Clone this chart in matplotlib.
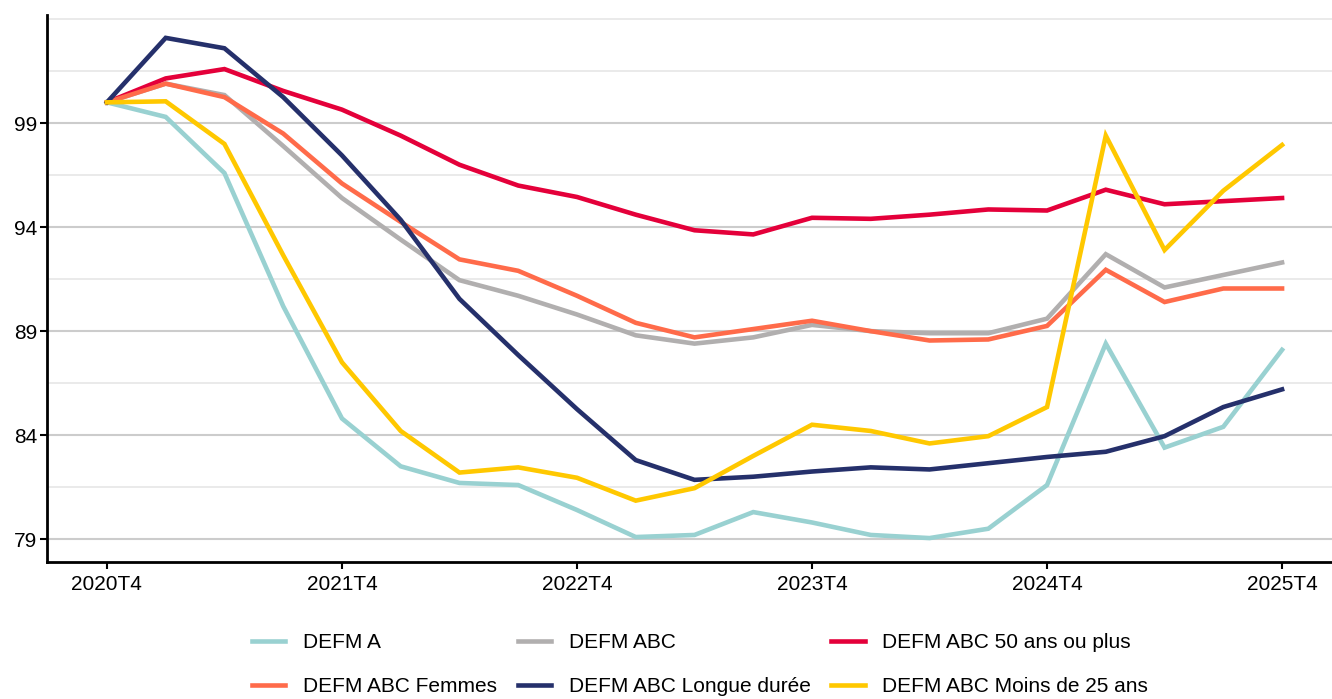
import numpy as np
import matplotlib
matplotlib.use("Agg")
import matplotlib.pyplot as plt


# Data (index base 100 at 2020T4), quarterly 2020T4 -> 2025T4

quarters = [f"{y}T{q}" for y in range(2020, 2026) for q in (1, 2, 3, 4)][3:]

defm_a = [100.0, 99.3, 96.6, 90.2, 84.8, 82.5, 81.7, 81.6, 80.4, 79.1, 79.2,
          80.3, 79.8, 79.2, 79.05, 79.5, 81.6, 88.4, 83.4, 84.4, 88.1]
defm_abc = [100.0, 100.9, 100.35, 97.9, 95.4, 93.4, 91.45, 90.7, 89.8, 88.8, 88.4,
            88.7, 89.3, 89.0, 88.9, 88.9, 89.6, 92.7, 91.1, 91.7, 92.3]
defm_50 = [100.0, 101.15, 101.6, 100.55, 99.65, 98.4, 97.0, 96.0, 95.45, 94.6, 93.85,
           93.65, 94.45, 94.4, 94.6, 94.85, 94.8, 95.8, 95.1, 95.25, 95.4]
defm_femmes = [100.0, 100.9, 100.25, 98.5, 96.1, 94.25, 92.45, 91.9, 90.7, 89.4, 88.7,
               89.1, 89.5, 89.0, 88.55, 88.6, 89.25, 91.95, 90.4, 91.05, 91.05]
defm_longue = [100.0, 103.1, 102.6, 100.25, 97.45, 94.35, 90.55, 87.85, 85.25, 82.8, 81.85,
               82.0, 82.25, 82.45, 82.35, 82.65, 82.95, 83.2, 83.95, 85.35, 86.2]
defm_moins25 = [100.0, 100.05, 98.0, 92.65, 87.5, 84.2, 82.2, 82.45, 81.95, 80.85, 81.45,
                83.0, 84.5, 84.2, 83.6, 83.95, 85.35, 98.4, 92.9, 95.75, 97.95]

series = [
    ("DEFM A", defm_a, "#99d1d1"),
    ("DEFM ABC", defm_abc, "#b1afaf"),
    ("DEFM ABC 50 ans ou plus", defm_50, "#e4003a"),
    ("DEFM ABC Femmes", defm_femmes, "#ff6b4a"),
    ("DEFM ABC Longue durée", defm_longue, "#25306b"),
    ("DEFM ABC Moins de 25 ans", defm_moins25, "#ffc800"),
]

plt.rcParams["font.family"] = ["Liberation Sans", "DejaVu Sans"]

fig = plt.figure(figsize=(13.32, 6.99), dpi=100)
ax = fig.add_axes([47 / 1332, 1 - 562 / 699, 1 - 47 / 1332, (562 - 15) / 699])

x = np.arange(len(quarters))
lines = {}
for name, vals, color in series:
    lines[name], = ax.plot(x, vals, color=color, lw=3.3, label=name,
                           solid_joinstyle="miter", zorder=3)

ax.set_xlim(-1.02, 20.85)
ax.set_ylim(77.9, 104.2)

ax.set_xticks(x[::4])
ax.set_xticklabels(quarters[::4])
ax.set_yticks([79, 84, 89, 94, 99])
ax.set_yticks([81.5, 86.5, 91.5, 96.5, 101.5, 104], minor=True)

ax.grid(axis="y", which="major", color="#cccccc", lw=1.5, zorder=0)
ax.grid(axis="y", which="minor", color="#e6e6e6", lw=1.2, zorder=0)
ax.tick_params(axis="y", which="minor", length=0)
ax.tick_params(axis="both", which="major", labelsize=15, colors="black",
               length=5, width=1.5)
ax.tick_params(axis="x", pad=4)
ax.tick_params(axis="y", pad=2)

for side in ("top", "right"):
    ax.spines[side].set_visible(False)
for side in ("left", "bottom"):
    ax.spines[side].set_linewidth(2)

# legend is filled column-wise, so order handles to read row-wise
order = ["DEFM A", "DEFM ABC Femmes", "DEFM ABC", "DEFM ABC Longue durée",
         "DEFM ABC 50 ans ou plus", "DEFM ABC Moins de 25 ans"]
fig.legend([lines[n] for n in order], order, loc="center",
           bbox_to_anchor=(700 / 1332, 1 - 665 / 699), ncol=3, frameon=False,
           fontsize=15, handlelength=1.6, handletextpad=0.85,
           columnspacing=1.0, labelspacing=1.2)

fig.savefig("out.png", dpi=100)
